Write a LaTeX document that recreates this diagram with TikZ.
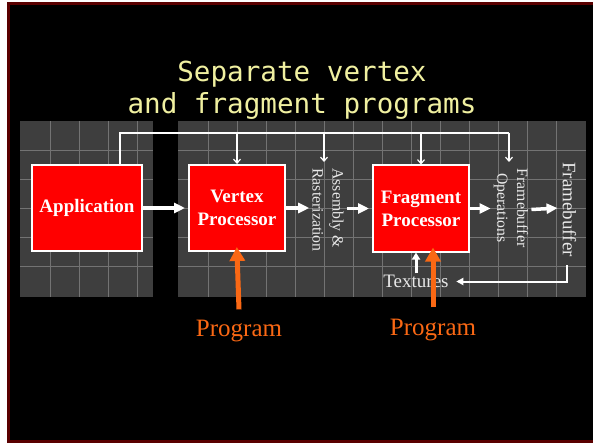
\documentclass[tikz,border=0pt]{standalone}
\usepackage{fontspec}
\setmainfont{Liberation Serif}
\newfontfamily\titlefont{DejaVu Sans Mono}
\usetikzlibrary{arrows.meta}

\definecolor{slidered}{RGB}{90,0,0}
\definecolor{panelgray}{RGB}{62,62,62}
\definecolor{gridgray}{RGB}{115,115,115}
\definecolor{titleyellow}{RGB}{240,240,160}
\definecolor{progorange}{RGB}{250,104,20}
\definecolor{labelgray}{RGB}{232,232,232}

\begin{document}
\begin{tikzpicture}[x=1pt, y=-1pt,
    stage/.style={draw=white, line width=2pt, fill=red, text=white,
      font=\fontsize{19}{23}\selectfont\bfseries, align=center,
      minimum width=96pt, minimum height=86pt, inner sep=0pt},
    sidelabel/.style={text=labelgray, rotate=-90, inner sep=3pt,
      font=\fontsize{15.8}{20}\selectfont},
    gridline/.style={gridgray, line width=0.6pt},
    flow/.style={white, line width=3.5pt, -{Triangle[length=11pt,width=10pt]}},
    busline/.style={white, line width=1.2pt},
    busarrow/.style={busline, -{Straight Barb[length=4pt,width=7pt]}},
    progarrow/.style={progorange, line width=5pt, -{Triangle[length=14pt,width=15pt]}},
    progtext/.style={text=progorange, inner sep=0pt, font=\fontsize{25}{30}\selectfont}]
  \clip (0,0) rectangle (593,443);
  % slide background
  \fill[white] (0,0) rectangle (593,443);
  \draw[slidered, line width=3pt, fill=black] (8.5,3.5) rectangle (600,441.5);
  % title
  \node[text=titleyellow, align=center, inner sep=0pt,
        font=\titlefont\fontsize{27.6}{32}\selectfont]
        (title) at (302,90) {Separate vertex\\and fragment programs};
  % gray panels with their grids
  \begin{scope}
    \fill[panelgray] (20,121) rectangle (153,297);
    \foreach \x in {50,79,108,137} \draw[gridline] (\x,121) -- (\x,297);
    \foreach \y in {150,179,208,237,266} \draw[gridline] (20,\y) -- (153,\y);
  \end{scope}
  \begin{scope}
    \fill[panelgray] (178,121) rectangle (586,297);
    \foreach \x in {208,237,...,557} \draw[gridline] (\x,121) -- (\x,297);
    \foreach \y in {150,179,208,237,266} \draw[gridline] (178,\y) -- (586,\y);
  \end{scope}
  % pipeline stages
  \node[stage, minimum width=110pt] (app) at (87,208) {Application};
  \node[stage] (vertex) at (237,208) {Vertex\\Processor};
  \node[stage] (fragment) at (421,208.5) {Fragment\\Processor};
  \node[sidelabel, align=left] (asm) at (328,210) {Assembly \&\\Rasterization};
  \node[sidelabel, align=center] (fbops) at (511,208) {Framebuffer\\Operations};
  \node[sidelabel, font=\fontsize{19}{23}\selectfont] (fb) at (569.5,209.5) {Framebuffer};
  \node[text=labelgray, inner sep=1.5pt, font=\fontsize{19}{23}\selectfont]
        (tex) at (416,281.5) {Textures};
  % main data flow
  \draw[flow, shorten >=3pt] (app.east) -- (vertex.west);
  \draw[flow] (vertex.east) -- (vertex.east -| asm.south);
  \draw[flow, shorten >=3pt] (fragment.west -| asm.north) -- (fragment.west);
  \draw[flow] (fragment.east) -- (fragment.east -| fbops.south);
  \draw[flow, shorten >=2pt] (fbops.north |- fb) -- (fb.south |- fbops);
  % control bus along the top
  \coordinate (busL) at (120,133);
  \coordinate (busR) at (509,133);
  \coordinate (asmin) at (324,162);
  \coordinate (fbopsin) at (509,162);
  \draw[busline] (app.north -| busL) -- (busL) -- (busR);
  \draw[busarrow] (busL -| vertex.north) -- (vertex.north);
  \draw[busarrow] (busL -| asmin) -- (asmin);
  \draw[busarrow] (busL -| fragment.north) -- (fragment.north);
  \draw[busarrow] (busR) -- (fbopsin);
  % textures read back from the framebuffer
  \coordinate (fbtail) at (567,265);
  \draw[white, line width=2pt, -{Triangle[length=7pt,width=7pt]}, shorten >=6pt]
        (fbtail) |- (tex.east);
  \draw[white, line width=3pt, -{Triangle[length=7pt,width=8pt]}]
        (tex.north) -- (tex.north |- fragment.south);
  % programs
  \node[progtext] (progv) at (239,331.5) {Program};
  \node[progtext] (progf) at (433,330.5) {Program};
  \draw[progarrow, shorten >=-5pt] ([yshift=11pt]progv.north) -- (vertex.south);
  \draw[progarrow, shorten >=-5pt] ([yshift=12pt]progf.north) -- (progf.north |- fragment.south);
\end{tikzpicture}
\end{document}
